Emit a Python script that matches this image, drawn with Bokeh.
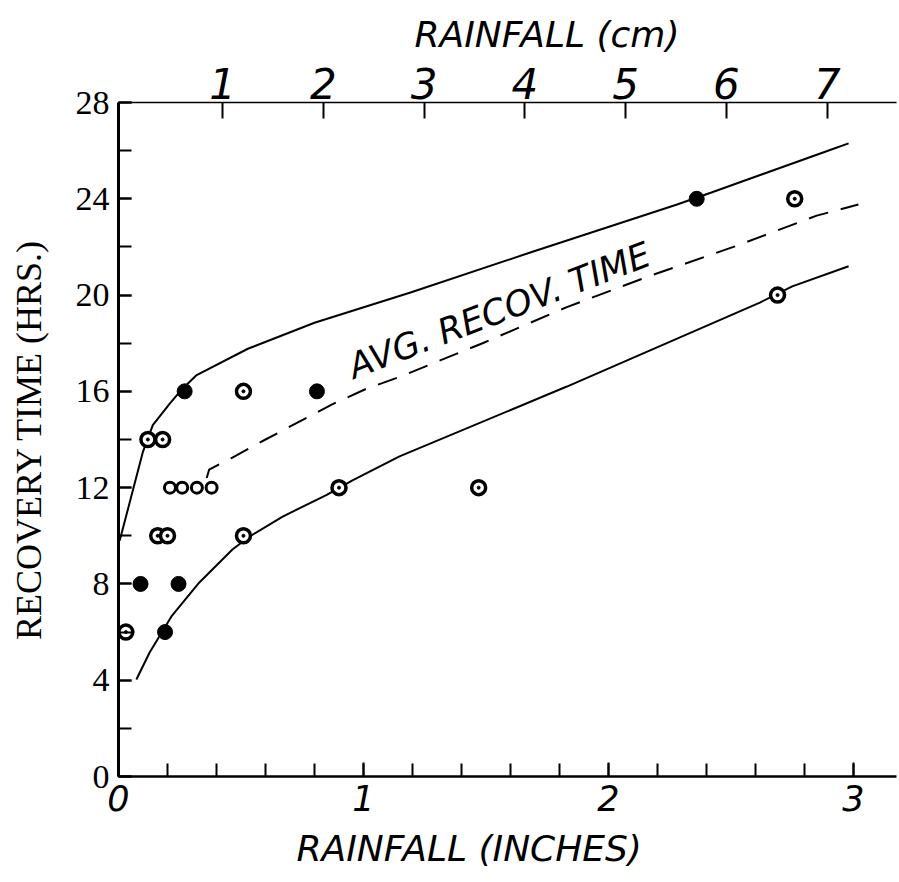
from bokeh.plotting import figure
from bokeh.models import Range1d, LinearAxis, SingleIntervalTicker, FixedTicker, Label, Title
from bokeh.embed import file_html
from bokeh.resources import INLINE

# ---- data (x: rainfall inches, y: recovery time hrs) ----
filled_x = [0.09, 0.19, 0.245, 0.27, 0.81, 2.36]
filled_y = [8, 6, 8, 16, 16, 24]

open_x = [0.03, 0.12, 0.18, 0.16, 0.20, 0.51, 0.51, 0.90, 1.47, 2.69, 2.76]
open_y = [6, 14, 14, 10, 10, 16, 10, 12, 12, 20, 24]

cluster_x = [0.21, 0.26, 0.32, 0.38]
cluster_y = [12, 12, 12, 12]

upper_x = [0.005, 0.10, 0.14, 0.21, 0.26, 0.317, 0.528, 0.80, 1.195, 1.69, 2.28, 2.42, 2.91, 2.98]
upper_y = [9.8, 13.5, 14.6, 15.5, 16.1, 16.66, 17.77, 18.85, 20.12, 21.8, 23.76, 24.26, 26.05, 26.3]

avg_x = [0.36, 0.37, 0.465, 0.60, 0.74, 0.87, 1.01, 1.147, 1.486, 1.83, 2.17, 2.51, 2.85, 3.02]
avg_y = [12.4, 12.75, 13.25, 14.0, 14.75, 15.45, 16.1, 16.6, 18.0, 19.5, 20.8, 22.0, 23.3, 23.76]

lower_x = [0.073, 0.127, 0.216, 0.33, 0.465, 0.535, 0.67, 0.85, 0.955, 1.147, 1.83, 2.62, 2.75, 2.98]
lower_y = [4.03, 5.15, 6.65, 8.06, 9.43, 9.97, 10.8, 11.7, 12.3, 13.3, 16.2, 19.7, 20.36, 21.2]

cm_ticks = [1, 2, 3, 4, 5, 6, 7]

# ---- figure ----
p = figure(width=898, height=881, output_backend="svg", toolbar_location=None,
           x_range=Range1d(0, 3.1755), y_range=Range1d(0, 28),
           min_border_left=118, min_border_right=2, min_border_top=102, min_border_bottom=105,
           title="RAINFALL (cm)")
p.outline_line_color = None
p.grid.visible = False
p.background_fill_color = "white"
p.border_fill_color = "white"

# top title (the cm axis name; hand-lettered right of centre in the original)
p.title.align = "left"
p.title.offset = 296
p.title.standoff = 20
p.title.text_font = "DejaVu Sans"
p.title.text_font_style = "italic"
p.title.text_font_size = "36px"
p.title.text_color = "black"

# bottom axis (inches)
xa = p.xaxis[0]
xa.ticker = SingleIntervalTicker(interval=1, num_minor_ticks=5)
xa.major_tick_in = 14
xa.major_tick_out = 0
xa.minor_tick_in = 13
xa.minor_tick_out = 0
xa.axis_line_width = 2.5
xa.major_tick_line_width = 2
xa.minor_tick_line_width = 2
xa.major_label_standoff = 8
xa.major_label_text_font = "DejaVu Sans"
xa.major_label_text_font_style = "italic"
xa.major_label_text_font_size = "35px"
xa.major_label_text_color = "black"

# bottom axis name, lettered slightly left of centre in the original
p.add_layout(Title(text="RAINFALL (INCHES)", align="left", offset=178, standoff=24,
                   text_font="DejaVu Sans", text_font_style="italic",
                   text_font_size="36px", text_color="black"), "below")

# left axis (hours)
ya = p.yaxis[0]
ya.ticker = SingleIntervalTicker(interval=4, num_minor_ticks=2)
ya.major_tick_in = 13
ya.major_tick_out = 0
ya.minor_tick_in = 13
ya.minor_tick_out = 0
ya.axis_line_width = 3
ya.major_tick_line_width = 2
ya.minor_tick_line_width = 2
ya.major_label_standoff = 9
ya.major_label_orientation = "horizontal"
ya.major_label_text_font = "Liberation Serif"
ya.major_label_text_font_style = "normal"
ya.major_label_text_font_size = "34px"
ya.major_label_text_color = "black"
ya.axis_label = "RECOVERY TIME (HRS.)"
ya.axis_label_text_font = "Liberation Serif"
ya.axis_label_text_font_style = "normal"
ya.axis_label_text_font_size = "36px"
ya.axis_label_text_color = "black"
ya.axis_label_standoff = 24

# top axis (cm)
p.extra_x_ranges = {"cm": Range1d(-0.0317, 7.687)}
ta = LinearAxis(x_range_name="cm", ticker=FixedTicker(ticks=cm_ticks, minor_ticks=[]))
ta.major_tick_in = 16
ta.major_tick_out = 0
ta.minor_tick_in = 0
ta.minor_tick_out = 0
ta.axis_line_width = 1.5
ta.major_tick_line_width = 2
ta.major_label_standoff = 4
ta.major_label_text_font = "DejaVu Sans"
ta.major_label_text_font_style = "italic"
ta.major_label_text_font_size = "42px"
ta.major_label_text_color = "black"
p.add_layout(ta, "above")

# curves
p.line(upper_x, upper_y, line_color="black", line_width=2)
p.line(lower_x, lower_y, line_color="black", line_width=2)
p.line(avg_x, avg_y, line_color="black", line_width=2, line_dash="20 13")

# points
p.scatter(open_x, open_y, size=14, fill_color="white", line_color="black", line_width=3.5)
p.scatter(open_x, open_y, size=3, fill_color="black", line_color="black")
p.scatter(cluster_x, cluster_y, size=11, fill_color="white", line_color="black", line_width=3)
p.scatter(filled_x, filled_y, size=15, fill_color="black", line_color="black")

# annotation
p.add_layout(Label(x=1.555, y=19.36, text="AVG. RECOV. TIME", angle=21, angle_units="deg",
                   text_align="center", text_baseline="middle",
                   text_font="DejaVu Sans", text_font_style="italic",
                   text_font_size="35px", text_color="black"))

open("out.html", "w").write(file_html(p, INLINE))
